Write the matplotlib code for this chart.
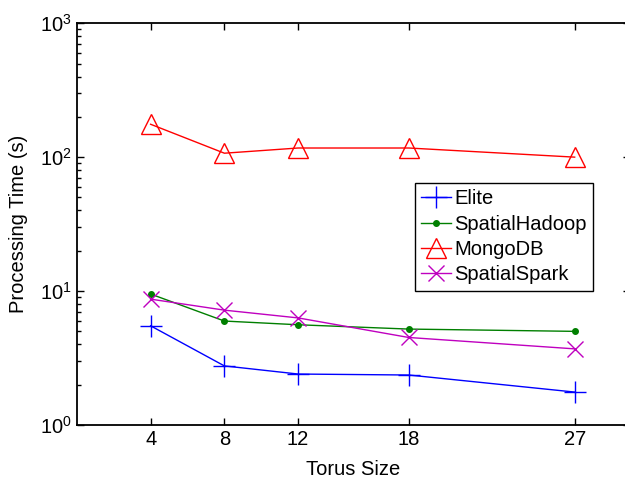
import numpy as np
import matplotlib.pyplot as plt

plt.rcParams['font.family'] = ['Liberation Sans', 'DejaVu Sans']
plt.rcParams['axes.linewidth'] = 1.3

# Data
torusSize = [4, 8, 12, 18, 27]
elite = [5.5, 2.76, 2.4, 2.36, 1.76]
spatialHadoop = [9.5, 5.97, 5.6, 5.2, 5.0]
mongoDB = [176, 107, 117, 117, 100]
spatialSpark = [8.7, 7.2, 6.3, 4.5, 3.7]

fig = plt.figure(figsize=(6.25, 4.84), dpi=100)
ax = fig.add_axes([0.123, 0.122, 0.885, 0.83])

ax.plot(torusSize, elite, color='#0000ff', marker='+', markersize=16, markeredgewidth=1, linewidth=1, label='Elite')
ax.plot(torusSize, spatialHadoop, color='#007f00', marker='.', markersize=8, linewidth=1, label='SpatialHadoop')
ax.plot(torusSize, mongoDB, color='#ff0000', marker='^', markersize=14, markerfacecolor='none',
        markeredgewidth=1, linewidth=1, label='MongoDB')
ax.plot(torusSize, spatialSpark, color='#bf00bf', marker='x', markersize=11, markeredgewidth=1, linewidth=1, label='SpatialSpark')

ax.set_yscale('log')
ax.set_ylim(1, 1000)
ax.set_xlim(0, 30)
ax.set_xticks(torusSize)
ax.set_xticklabels([str(t) for t in torusSize])
ax.tick_params(which='both', direction='in', top=True, right=True, labelsize=14.5, width=1)
ax.tick_params(which='major', length=5)
ax.tick_params(which='minor', length=3)
ax.set_xlabel('Torus Size', fontsize=14.5, labelpad=8)
ax.set_ylabel('Processing Time (s)', fontsize=14.5, labelpad=9)

leg = ax.legend(loc='upper left', bbox_to_anchor=(0.611, 0.602), fancybox=False, framealpha=1,
                edgecolor='black', fontsize=14.5, handlelength=1.5, handletextpad=0.15,
                borderpad=0.3, labelspacing=0.32, borderaxespad=0)
leg.get_frame().set_linewidth(1)

plt.savefig('out.png', dpi=100)
